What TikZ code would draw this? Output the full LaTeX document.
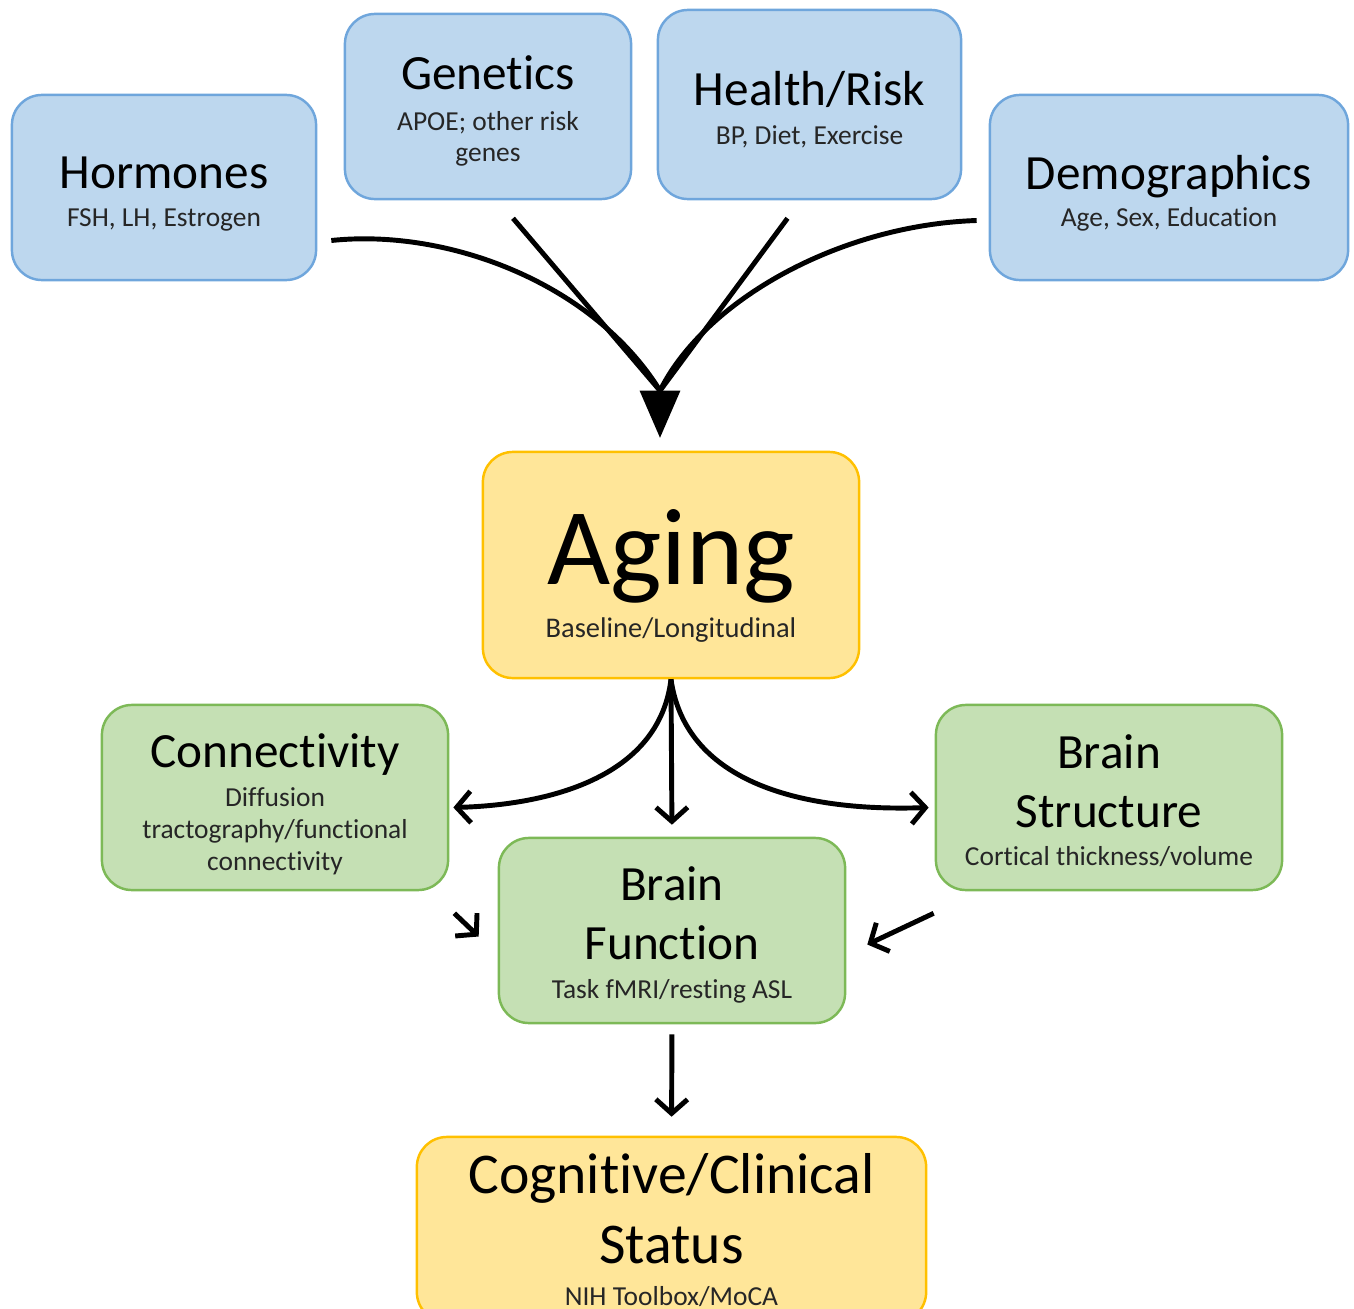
\documentclass[tikz,border=0pt]{standalone}
\usepackage{fontspec}
\setmainfont{Carlito}[Ligatures=NoCommon]
\usetikzlibrary{arrows.meta,calc}

\definecolor{bluefill}{HTML}{BDD7EE}
\definecolor{blueline}{HTML}{6FA6DC}
\definecolor{yellowfill}{HTML}{FFE699}
\definecolor{yellowline}{HTML}{FFC000}
\definecolor{greenfill}{HTML}{C5E0B4}
\definecolor{greenline}{HTML}{7DB957}

\newcommand{\subt}{\fontsize{7.8}{9.4}\selectfont\color{black!85}}

\begin{document}
\begin{tikzpicture}[x=0.01cm,y=-0.01cm,
    box/.style={rounded corners=0.3cm, line width=0.7pt, align=center, inner sep=0pt,
                font=\fontsize{14}{16.8}\selectfont, text depth=0pt},
    factor/.style={box, draw=blueline, fill=bluefill},
    outcome/.style={box, draw=yellowline, fill=yellowfill},
    brain/.style={box, draw=greenline, fill=greenfill,
                  minimum width=3.46cm, minimum height=1.85cm},
    flow/.style={line width=1.4pt},
    barb/.style={flow, -{Straight Barb[length=4pt,width=9pt]}}]
    \useasboundingbox (0,0) rectangle (1354,1309);
    \clip (0,0) rectangle (1354,1309);

    % influences
    \node[factor, minimum width=3.04cm, minimum height=1.85cm, text height=22.4pt] (horm) at (164,187.5)
        {Hormones\\[-5.8pt]{\subt FSH, LH, Estrogen}};
    \node[factor, minimum width=2.86cm, minimum height=1.85cm, text height=31pt] (gen) at (488,106.5)
        {Genetics\\[-5.3pt]{\subt APOE; other risk}\\[-8.1pt]{\subt genes}};
    \node[factor, minimum width=3.03cm, minimum height=1.89cm, text height=22.5pt] (risk) at (809.5,104.5)
        {Health/Risk\\[-5.8pt]{\subt BP, Diet, Exercise}};
    \node[factor, minimum width=3.58cm, minimum height=1.85cm, text height=21.9pt] (demo) at (1169,187.5)
        {Demographics\\[-6.4pt]{\subt Age, Sex, Education}};

    % aging
    \node[outcome, minimum width=3.76cm, minimum height=2.26cm, text height=41.5pt,
          font=\fontsize{31}{34}\selectfont] (aging) at (671,565)
        {Aging\\[-18.8pt]{\subt\fontsize{8.1}{9.4}\selectfont Baseline/Longitudinal}};

    % brain measures
    \node[brain, text height=41.3pt] (conn) at (275,797.5)
        {Connectivity\\[-5.6pt]{\subt Diffusion}\\[-7.8pt]{\subt tractography/functional}\\[-7.8pt]{\subt connectivity}};
    \node[brain, text height=38.4pt] (struct) at (1109,797.5)
        {Brain\\Structure\\[-6.1pt]{\subt Cortical thickness/volume}};
    \node[brain, text height=38.4pt] (func) at (672,930.5)
        {Brain\\Function\\[-5.8pt]{\subt Task fMRI/resting ASL}};

    % outcome
    \node[outcome, minimum width=5.09cm, minimum height=1.85cm, text height=43.5pt,
          font=\fontsize{16.4}{20.2}\selectfont] (cog) at (671.5,1229.5)
        {Cognitive/Clinical\\[-0.3pt]Status\\[-8.1pt]{\subt NIH Toolbox/MoCA}};

    % converging arrows
    \coordinate (merge) at ($(aging.north)+(-11,-60)$);
    \draw[flow] ($(horm.east)+(14,53)$) .. controls (450,228) and (595,285) .. (merge);
    \draw[flow] ($(gen.south)+(25,18)$) -- (merge);
    \draw[flow] ($(risk.south)+(-22,18)$) -- (merge);
    \draw[flow] ($(demo.west)+(-12,33)$) .. controls (840,225) and (705,300) .. (merge);
    \draw[flow, line width=2.6pt, shorten >=0.12cm,
          -{Triangle[length=0.48cm,width=0.38cm]}] (merge) -- (merge |- aging.north);

    % aging to brain measures
    \draw[barb] (aging.south) .. controls ($(aging.south)+(-12,100)$) and (545,805) .. ($(conn.east)+(4,10)$);
    \draw[barb, shorten >=0.12cm] (aging.south) -- (func.north);
    \draw[barb] (aging.south) .. controls ($(aging.south)+(14,100)$) and (795,812) .. ($(struct.west)+(-6,10)$);

    % into brain function
    \draw[barb] ($(conn.south east)+(5,22)$) -- ($(func.west)+(-19,6)$);
    \draw[barb] ($(struct.south west)+(-1,22)$) -- ($(func.east)+(21,14)$);

    % to outcome
    \draw[barb, shorten <=0.1cm, shorten >=0.19cm] (func.south) -- (cog.north);
\end{tikzpicture}
\end{document}
